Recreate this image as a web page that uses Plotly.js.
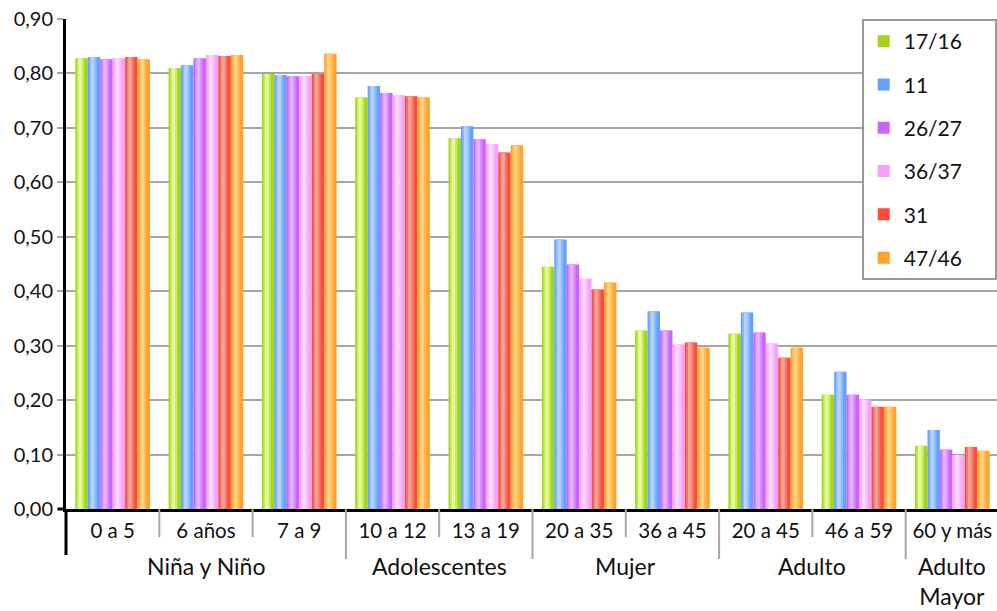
<!DOCTYPE html>
<html>
<head>
<meta charset="utf-8">
<script src="https://cdn.plot.ly/plotly-3.0.1.min.js"></script>
<style>
html,body{margin:0;padding:0;overflow:hidden;background:#fff;}
#chart{width:999px;height:611px;}
</style>
</head>
<body>
<div id="chart"></div>
<script>
// ---- data ----
const categories = ['0 a 5','6 años','7 a 9','10 a 12','13 a 19','20 a 35','36 a 45','20 a 45','46 a 59','60 y más'];
const groupNames = ['Niña y Niño','Adolescentes','Mujer','Adulto','Adulto<br>Mayor'];
const groupSizes = [3,2,2,2,1];
const seriesNames = ['17/16','11','26/27','36/37','31','47/46'];
const s17_16 = [0.828,0.810,0.799,0.756,0.681,0.445,0.328,0.322,0.210,0.116];
const s11    = [0.830,0.815,0.797,0.777,0.703,0.495,0.363,0.361,0.252,0.145];
const s26_27 = [0.826,0.828,0.795,0.764,0.679,0.449,0.328,0.324,0.210,0.109];
const s36_37 = [0.828,0.834,0.795,0.760,0.670,0.423,0.302,0.304,0.201,0.099];
const s31    = [0.830,0.832,0.799,0.758,0.655,0.403,0.306,0.278,0.188,0.114];
const s47_46 = [0.826,0.834,0.836,0.756,0.668,0.416,0.296,0.296,0.188,0.107];
const seriesValues = [s17_16,s11,s26_27,s36_37,s31,s47_46];

// ---- style ----
const palette = [
  ['#a3d41a','#c6ea58','#e2fd9a'],
  ['#64a0ff','#8cbaff','#b4d4ff'],
  ['#c964ff','#d88cff','#e6b4ff'],
  ['#f3a2ff','#f7bdff','#fbd6ff'],
  ['#ff4a3c','#f47868','#f0a496'],
  ['#ffa22e','#ffb955','#ffd27c']
];
const FONT = 'Lato, "Open Sans", sans-serif';
const groupWidth = 0.8;
const bw = groupWidth / seriesNames.length;
const legendPad = '\u00a0\u00a0\u00a0\u00a0\u00a0';

const traces = [];
seriesNames.forEach((name, i) => {
  const off = -groupWidth/2 + i*bw;
  traces.push({
    type:'bar', name:name + legendPad, x:categories, y:seriesValues[i],
    offset:off, width:bw,
    marker:{color:palette[i][0], line:{width:0}},
    legendgroup:'g'+i
  });
  traces.push({
    type:'bar', x:categories, y:seriesValues[i],
    offset:off + bw*0.12, width:bw*0.6,
    marker:{color:palette[i][1], line:{width:0}},
    showlegend:false, hoverinfo:'skip', legendgroup:'g'+i
  });
  traces.push({
    type:'bar', x:categories, y:seriesValues[i],
    offset:off + bw*0.25, width:bw*0.28,
    marker:{color:palette[i][2], line:{width:0}},
    showlegend:false, hoverinfo:'skip', legendgroup:'g'+i
  });
});

// dividers & group labels (in axis category coordinates)
const plotTopPx = 19, plotBotPx = 509, plotH = plotBotPx - plotTopPx;
const pxToPaper = px => (plotBotPx - px) / plotH;
const shapes = [];
const annotations = [];
shapes.push({type:'line', xref:'paper', yref:'paper', x0:0, x1:0,
  y0:0, y1:pxToPaper(555), line:{color:'#000', width:3}});
shapes.push({type:'line', xref:'paper', yref:'paper', x0:-0.009, x1:0,
  y0:0, y1:0, line:{color:'#000', width:3}});
let idx = 0;
groupSizes.forEach((n, g) => {
  for (let k = 1; k < n; k++) {
    const b = idx + k - 0.5;
    shapes.push({type:'line', xref:'x', yref:'paper', x0:b, x1:b,
      y0:0, y1:pxToPaper(537), line:{color:'#a6a6a6', width:2}});
  }
  const end = idx + n - 0.5;
  if (g < groupSizes.length - 1) {
    shapes.push({type:'line', xref:'x', yref:'paper', x0:end, x1:end,
      y0:0, y1:pxToPaper(559), line:{color:'#a6a6a6', width:2}});
  }
  annotations.push({xref:'x', yref:'paper', x: idx + (n-1)/2, y: pxToPaper(550),
    yanchor:'top', xanchor:'center', showarrow:false, text: groupNames[g],
    font:{family:FONT, size:23, color:'#111'}});
  idx += n;
});

const layout = {
  width:999, height:611,
  margin:{l:66, r:0, t:plotTopPx, b:611-plotBotPx},
  paper_bgcolor:'#fff', plot_bgcolor:'#fff',
  barmode:'overlay',
  separators:',.',
  showlegend:true,
  font:{family:FONT, color:'#111'},
  xaxis:{
    type:'category', showgrid:false, ticks:'',
    showline:true, linecolor:'#000', linewidth:3,
    tickfont:{family:FONT, size:20.5, color:'#111'},
    ticklabelstandoff:1,
    range:[-0.5, categories.length-0.5], fixedrange:true
  },
  yaxis:{
    range:[0,0.9], dtick:0.1, tick0:0, tickformat:'.2f',
    showgrid:true, gridcolor:'#a6a6a6', gridwidth:2,
    zeroline:false,
    showline:true, linecolor:'#000', linewidth:3,
    ticks:'outside', ticklen:6, tickcolor:'#a6a6a6', tickwidth:2,
    tickfont:{family:FONT, size:20, color:'#111'},
    fixedrange:true
  },
  legend:{
    x:(860-66)/931, xanchor:'left', y:1, yanchor:'top',
    bgcolor:'#fff', bordercolor:'#999', borderwidth:2,
    font:{family:FONT, size:21, color:'#111'},
    traceorder:'grouped', tracegroupgap:13
  },
  shapes:shapes,
  annotations:annotations
};

Plotly.newPlot('chart', traces, layout, {displayModeBar:false, staticPlot:true});
</script>
</body>
</html>
